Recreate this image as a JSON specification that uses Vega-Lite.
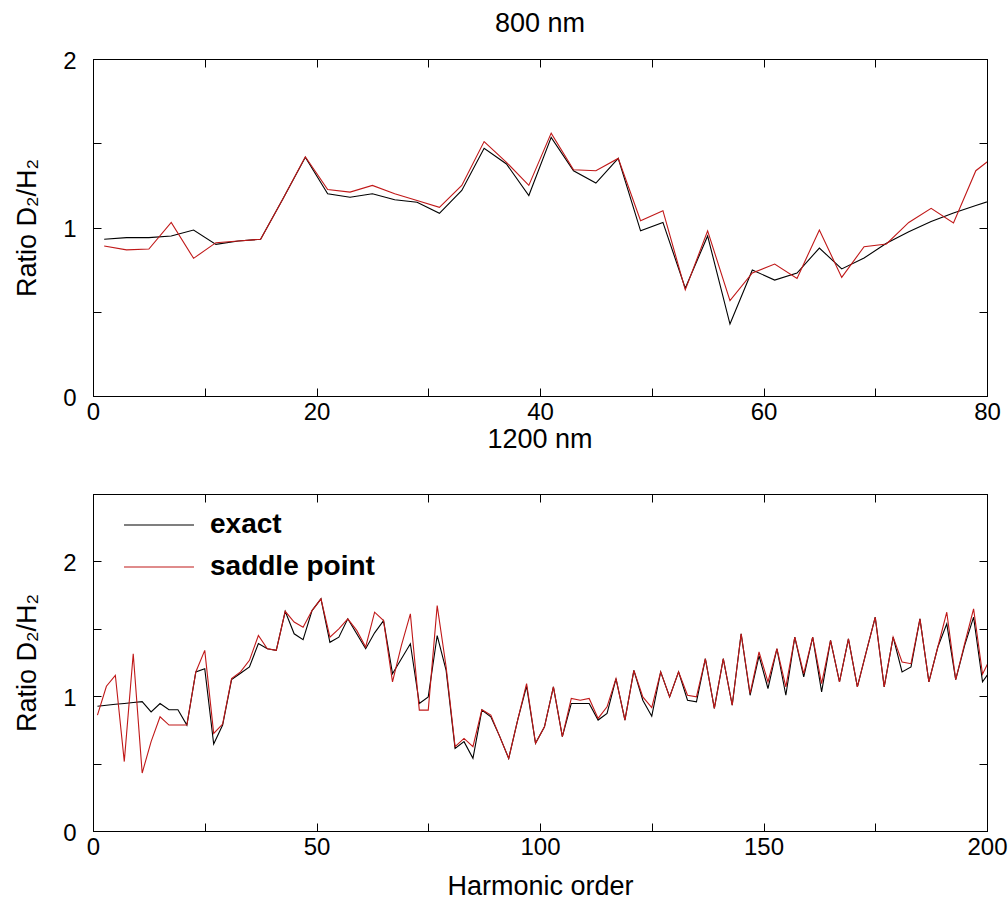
{
  "$schema": "https://vega.github.io/schema/vega-lite/v6.json",
  "background": "white",
  "padding": {"left": 13, "top": 9, "right": 5, "bottom": 5},
  "config": {
    "font": "Liberation Sans",
    "view": {"stroke": "black", "strokeWidth": 1},
    "axis": {
      "grid": false,
      "labelFont": "Liberation Sans",
      "labelFontSize": 24,
      "labelColor": "black",
      "titleFont": "Liberation Sans",
      "titleFontSize": 27,
      "titleFontWeight": "normal",
      "titleColor": "black",
      "domainColor": "black",
      "domainWidth": 1,
      "tickColor": "black",
      "tickWidth": 1,
      "tickSize": -8,
      "labelFlush": false,
      "labelOverlap": false,
      "labelBound": false
    },
    "title": {"font": "Liberation Sans", "fontSize": 27, "fontWeight": "normal", "color": "black"},
    "concat": {"spacing": 0}
  },
  "datasets": {
    "top": [
      {"h": 1, "exact": 0.93, "saddle point": 0.89},
      {"h": 3, "exact": 0.94, "saddle point": 0.867},
      {"h": 5, "exact": 0.94, "saddle point": 0.872},
      {"h": 7, "exact": 0.95, "saddle point": 1.03},
      {"h": 9, "exact": 0.985, "saddle point": 0.817},
      {"h": 11, "exact": 0.9, "saddle point": 0.91},
      {"h": 13, "exact": 0.92, "saddle point": 0.92},
      {"h": 15, "exact": 0.93, "saddle point": 0.93},
      {"h": 17, "exact": 1.17, "saddle point": 1.17},
      {"h": 19, "exact": 1.417, "saddle point": 1.42},
      {"h": 21, "exact": 1.2, "saddle point": 1.225},
      {"h": 23, "exact": 1.18, "saddle point": 1.21},
      {"h": 25, "exact": 1.2, "saddle point": 1.25},
      {"h": 27, "exact": 1.165, "saddle point": 1.2},
      {"h": 29, "exact": 1.15, "saddle point": 1.16},
      {"h": 31, "exact": 1.084, "saddle point": 1.12},
      {"h": 33, "exact": 1.22, "saddle point": 1.25},
      {"h": 35, "exact": 1.47, "saddle point": 1.51},
      {"h": 37, "exact": 1.377, "saddle point": 1.387},
      {"h": 39, "exact": 1.19, "saddle point": 1.25},
      {"h": 41, "exact": 1.535, "saddle point": 1.56},
      {"h": 43, "exact": 1.337, "saddle point": 1.343},
      {"h": 45, "exact": 1.264, "saddle point": 1.337},
      {"h": 47, "exact": 1.41, "saddle point": 1.41},
      {"h": 49, "exact": 0.98, "saddle point": 1.04},
      {"h": 51, "exact": 1.03, "saddle point": 1.1},
      {"h": 53, "exact": 0.64, "saddle point": 0.63},
      {"h": 55, "exact": 0.95, "saddle point": 0.98},
      {"h": 57, "exact": 0.427, "saddle point": 0.566},
      {"h": 59, "exact": 0.748, "saddle point": 0.73},
      {"h": 61, "exact": 0.688, "saddle point": 0.783},
      {"h": 63, "exact": 0.73, "saddle point": 0.698},
      {"h": 65, "exact": 0.878, "saddle point": 0.985},
      {"h": 67, "exact": 0.754, "saddle point": 0.704},
      {"h": 69, "exact": 0.819, "saddle point": 0.886},
      {"h": 71, "exact": 0.906, "saddle point": 0.902},
      {"h": 73, "exact": 0.975, "saddle point": 1.03},
      {"h": 75, "exact": 1.035, "saddle point": 1.114},
      {"h": 77, "exact": 1.086, "saddle point": 1.027},
      {"h": 79, "exact": 1.13, "saddle point": 1.337},
      {"h": 81, "exact": 1.175, "saddle point": 1.44}
    ],
    "bottom": [
      {"h": 1, "exact": 0.926, "saddle point": 0.86},
      {"h": 3, "exact": 0.933, "saddle point": 1.074},
      {"h": 5, "exact": 0.94, "saddle point": 1.155},
      {"h": 7, "exact": 0.946, "saddle point": 0.515},
      {"h": 9, "exact": 0.953, "saddle point": 1.315},
      {"h": 11, "exact": 0.96, "saddle point": 0.43},
      {"h": 13, "exact": 0.884, "saddle point": 0.663},
      {"h": 15, "exact": 0.946, "saddle point": 0.847},
      {"h": 17, "exact": 0.9, "saddle point": 0.786},
      {"h": 19, "exact": 0.9, "saddle point": 0.786},
      {"h": 21, "exact": 0.786, "saddle point": 0.786},
      {"h": 23, "exact": 1.18, "saddle point": 1.18},
      {"h": 25, "exact": 1.204, "saddle point": 1.34},
      {"h": 27, "exact": 0.645, "saddle point": 0.724},
      {"h": 29, "exact": 0.786, "saddle point": 0.793},
      {"h": 31, "exact": 1.123, "saddle point": 1.13},
      {"h": 33, "exact": 1.17, "saddle point": 1.18},
      {"h": 35, "exact": 1.217, "saddle point": 1.266},
      {"h": 37, "exact": 1.39, "saddle point": 1.45},
      {"h": 39, "exact": 1.352, "saddle point": 1.352},
      {"h": 41, "exact": 1.34, "saddle point": 1.34},
      {"h": 43, "exact": 1.63, "saddle point": 1.63},
      {"h": 45, "exact": 1.463, "saddle point": 1.55},
      {"h": 47, "exact": 1.419, "saddle point": 1.512},
      {"h": 49, "exact": 1.635, "saddle point": 1.635},
      {"h": 51, "exact": 1.722, "saddle point": 1.722},
      {"h": 53, "exact": 1.4, "saddle point": 1.438},
      {"h": 55, "exact": 1.438, "saddle point": 1.5},
      {"h": 57, "exact": 1.574, "saddle point": 1.574},
      {"h": 59, "exact": 1.463, "saddle point": 1.488},
      {"h": 61, "exact": 1.352, "saddle point": 1.365},
      {"h": 63, "exact": 1.47, "saddle point": 1.623},
      {"h": 65, "exact": 1.561, "saddle point": 1.561},
      {"h": 67, "exact": 1.167, "saddle point": 1.106},
      {"h": 69, "exact": 1.278, "saddle point": 1.377},
      {"h": 71, "exact": 1.389, "saddle point": 1.611},
      {"h": 73, "exact": 0.946, "saddle point": 0.897},
      {"h": 75, "exact": 0.995, "saddle point": 0.897},
      {"h": 77, "exact": 1.45, "saddle point": 1.672},
      {"h": 79, "exact": 1.192, "saddle point": 1.217},
      {"h": 81, "exact": 0.613, "saddle point": 0.626},
      {"h": 83, "exact": 0.663, "saddle point": 0.687},
      {"h": 85, "exact": 0.539, "saddle point": 0.626},
      {"h": 87, "exact": 0.897, "saddle point": 0.9},
      {"h": 89, "exact": 0.847, "saddle point": 0.86},
      {"h": 91, "exact": 0.7, "saddle point": 0.7},
      {"h": 93, "exact": 0.539, "saddle point": 0.539},
      {"h": 95, "exact": 0.823, "saddle point": 0.823},
      {"h": 97, "exact": 1.074, "saddle point": 1.094},
      {"h": 99, "exact": 0.65, "saddle point": 0.65},
      {"h": 101, "exact": 0.773, "saddle point": 0.773},
      {"h": 103, "exact": 1.069, "saddle point": 1.069},
      {"h": 105, "exact": 0.7, "saddle point": 0.7},
      {"h": 107, "exact": 0.946, "saddle point": 0.983},
      {"h": 109, "exact": 0.946, "saddle point": 0.97},
      {"h": 111, "exact": 0.946, "saddle point": 0.983},
      {"h": 113, "exact": 0.823, "saddle point": 0.835},
      {"h": 115, "exact": 0.872, "saddle point": 0.921},
      {"h": 117, "exact": 1.13, "saddle point": 1.13},
      {"h": 119, "exact": 0.823, "saddle point": 0.823},
      {"h": 121, "exact": 1.192, "saddle point": 1.192},
      {"h": 123, "exact": 0.97, "saddle point": 0.995},
      {"h": 125, "exact": 0.852, "saddle point": 0.916},
      {"h": 127, "exact": 1.18, "saddle point": 1.18},
      {"h": 129, "exact": 0.995, "saddle point": 0.995},
      {"h": 131, "exact": 1.18, "saddle point": 1.18},
      {"h": 133, "exact": 0.97, "saddle point": 1.007},
      {"h": 135, "exact": 0.958, "saddle point": 0.995},
      {"h": 137, "exact": 1.278, "saddle point": 1.278},
      {"h": 139, "exact": 0.909, "saddle point": 0.909},
      {"h": 141, "exact": 1.278, "saddle point": 1.278},
      {"h": 143, "exact": 0.933, "saddle point": 0.933},
      {"h": 145, "exact": 1.463, "saddle point": 1.463},
      {"h": 147, "exact": 1.007, "saddle point": 1.02},
      {"h": 149, "exact": 1.3, "saddle point": 1.328},
      {"h": 151, "exact": 1.057, "saddle point": 1.106},
      {"h": 153, "exact": 1.352, "saddle point": 1.352},
      {"h": 155, "exact": 1.007, "saddle point": 1.069},
      {"h": 157, "exact": 1.438, "saddle point": 1.438},
      {"h": 159, "exact": 1.143, "saddle point": 1.167},
      {"h": 161, "exact": 1.438, "saddle point": 1.438},
      {"h": 163, "exact": 1.032, "saddle point": 1.094},
      {"h": 165, "exact": 1.414, "saddle point": 1.414},
      {"h": 167, "exact": 1.106, "saddle point": 1.106},
      {"h": 169, "exact": 1.426, "saddle point": 1.426},
      {"h": 171, "exact": 1.069, "saddle point": 1.069},
      {"h": 173, "exact": 1.33, "saddle point": 1.33},
      {"h": 175, "exact": 1.586, "saddle point": 1.586},
      {"h": 177, "exact": 1.069, "saddle point": 1.069},
      {"h": 179, "exact": 1.438, "saddle point": 1.438},
      {"h": 181, "exact": 1.18, "saddle point": 1.254},
      {"h": 183, "exact": 1.217, "saddle point": 1.241},
      {"h": 185, "exact": 1.574, "saddle point": 1.574},
      {"h": 187, "exact": 1.106, "saddle point": 1.106},
      {"h": 189, "exact": 1.365, "saddle point": 1.365},
      {"h": 191, "exact": 1.537, "saddle point": 1.623},
      {"h": 193, "exact": 1.123, "saddle point": 1.123},
      {"h": 195, "exact": 1.377, "saddle point": 1.39},
      {"h": 197, "exact": 1.586, "saddle point": 1.648},
      {"h": 199, "exact": 1.106, "saddle point": 1.163},
      {"h": 201, "exact": 1.2, "saddle point": 1.3}
    ]
  },
  "resolve": {"scale": {"color": "independent"}},
  "vconcat": [
    {
      "title": {"text": "800 nm", "offset": 11},
      "width": 894,
      "height": 337,
      "data": {"name": "top"},
      "transform": [{"fold": ["exact", "saddle point"], "as": ["series", "ratio"]}],
      "layer": [
        {
          "mark": {"type": "line", "clip": true, "strokeWidth": 1.1},
          "encoding": {
            "x": {"field": "h", "type": "quantitative", "scale": {"domain": [0, 80], "nice": false},
              "axis": {"orient": "bottom", "values": [0, 10, 20, 30, 40, 50, 60, 70, 80], "labelExpr": "datum.value % 20 === 0 ? format(datum.value, 'd') : ''", "title": null, "labelPadding": 12}},
            "y": {"field": "ratio", "type": "quantitative", "scale": {"domain": [0, 2], "nice": false},
              "axis": {"orient": "left", "values": [0, 0.5, 1, 1.5, 2], "labelExpr": "datum.value % 1 === 0 ? format(datum.value, 'd') : ''", "title": "Ratio D₂/H₂", "labelPadding": 25, "titlePadding": 21, "labelOffset": 2}},
            "color": {"field": "series", "type": "nominal", "scale": {"domain": ["exact", "saddle point"], "range": ["#000000", "#c01818"]}, "legend": null}
          }
        },
        {
          "mark": {"type": "point", "opacity": 0, "clip": true},
          "encoding": {
            "x": {"field": "h", "type": "quantitative", "axis": {"orient": "top", "values": [0, 10, 20, 30, 40, 50, 60, 70, 80], "labels": false, "title": null}},
            "y": {"field": "ratio", "type": "quantitative", "axis": {"orient": "right", "values": [0, 0.5, 1, 1.5, 2], "labels": false, "title": null}}
          }
        }
      ],
      "resolve": {"axis": {"x": "independent", "y": "independent"}}
    },
    {
      "title": {"text": "1200 nm", "offset": 30},
      "width": 894,
      "height": 337,
      "data": {"name": "bottom"},
      "transform": [{"fold": ["exact", "saddle point"], "as": ["series", "ratio"]}],
      "layer": [
        {
          "mark": {"type": "line", "clip": true, "strokeWidth": 1.1},
          "encoding": {
            "x": {"field": "h", "type": "quantitative", "scale": {"domain": [0, 200], "nice": false},
              "axis": {"orient": "bottom", "values": [0, 25, 50, 75, 100, 125, 150, 175, 200], "labelExpr": "datum.value % 50 === 0 ? format(datum.value, 'd') : ''", "title": "Harmonic order", "labelPadding": 12, "titlePadding": 14}},
            "y": {"field": "ratio", "type": "quantitative", "scale": {"domain": [0, 2.5], "nice": false},
              "axis": {"orient": "left", "values": [0, 0.5, 1, 1.5, 2, 2.5], "labelExpr": "datum.value % 1 === 0 ? format(datum.value, 'd') : ''", "title": "Ratio D₂/H₂", "labelPadding": 25, "titlePadding": 21, "labelOffset": 2}},
            "color": {"field": "series", "type": "nominal", "scale": {"domain": ["exact", "saddle point"], "range": ["#000000", "#c01818"]},
              "legend": {"orient": "none", "legendX": 52, "legendY": 17, "title": null, "symbolType": "M-3,0H3", "symbolSize": 544, "symbolStrokeWidth": 1.1, "labelFont": "Liberation Sans", "labelFontSize": 28, "labelFontWeight": "bold", "labelColor": "black", "labelOffset": 37, "labelLimit": 0, "rowPadding": 14, "padding": 0}}
          }
        },
        {
          "mark": {"type": "point", "opacity": 0, "clip": true},
          "encoding": {
            "x": {"field": "h", "type": "quantitative", "axis": {"orient": "top", "values": [0, 25, 50, 75, 100, 125, 150, 175, 200], "labels": false, "title": null}},
            "y": {"field": "ratio", "type": "quantitative", "axis": {"orient": "right", "values": [0, 0.5, 1, 1.5, 2, 2.5], "labels": false, "title": null}}
          }
        }
      ],
      "resolve": {"axis": {"x": "independent", "y": "independent"}}
    }
  ]
}
